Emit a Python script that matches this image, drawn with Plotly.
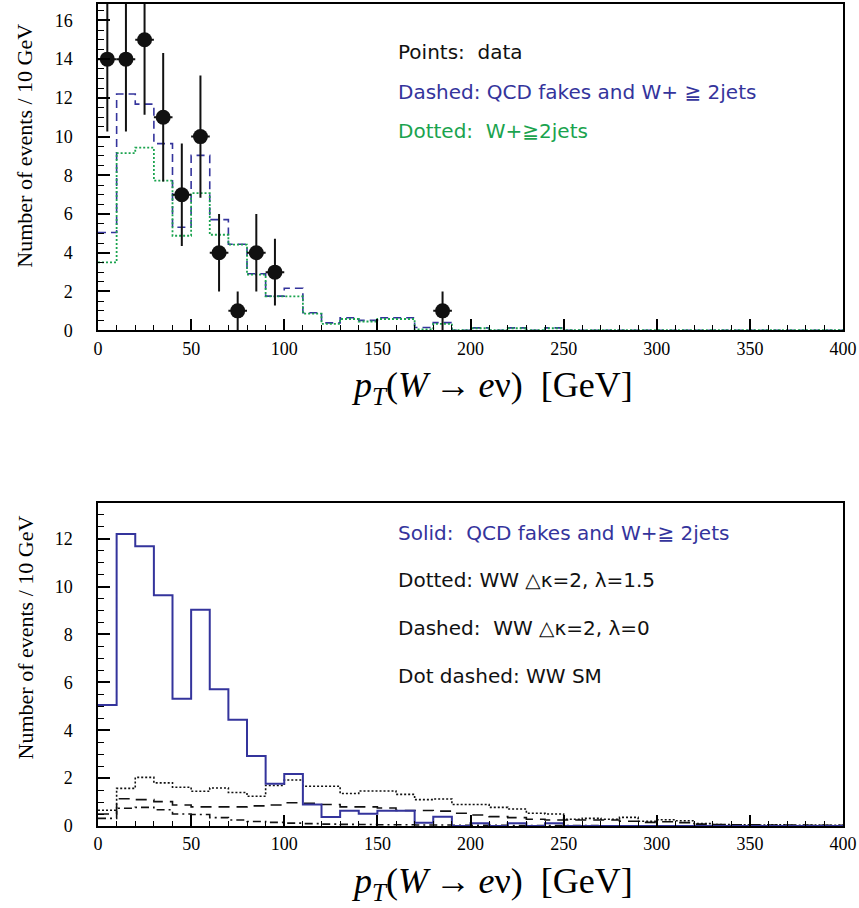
import plotly.graph_objects as go
from plotly.subplots import make_subplots

# ---------------- data ----------------
bin_edges = list(range(0, 410, 10))  # 0..400, 10 GeV bins

data_x = [5, 15, 25, 35, 45, 55, 65, 75, 85, 95, 185]
data_y = [14, 14, 15, 11, 7, 10, 4, 1, 4, 3, 1]
data_err = [3.74, 3.74, 3.87, 3.32, 2.65, 3.16, 2.0, 1.0, 2.0, 1.73, 1.0]
data_xerr = [5] * 11

qcd_w2jets = [5.05, 12.2, 11.68, 9.64, 5.32, 9.03, 5.71, 4.44, 2.92, 1.76,
              2.17, 0.9, 0.38, 0.64, 0.51, 0.64, 0.64, 0.14, 0.39, 0.0,
              0.12, 0.0, 0.12, 0.0, 0.12, 0.0, 0.0, 0.0, 0.0, 0.0,
              0.0, 0.0, 0.0, 0.0, 0.0, 0.0, 0.0, 0.0, 0.0, 0.0]

w2jets = [3.5, 9.15, 9.43, 7.73, 4.88, 7.08, 4.93, 4.42, 2.87, 1.75,
          1.75, 0.86, 0.33, 0.58, 0.45, 0.58, 0.58, 0.04, 0.33, 0.0,
          0.1, 0.0, 0.1, 0.0, 0.1, 0.0, 0.0, 0.0, 0.0, 0.0,
          0.0, 0.0, 0.0, 0.0, 0.0, 0.0, 0.0, 0.0, 0.0, 0.0]

ww_k2_l15 = [0.66, 1.57, 2.03, 1.8, 1.62, 1.45, 1.59, 1.4, 1.24, 1.69,
             1.92, 1.66, 1.66, 1.36, 1.46, 1.46, 1.32, 1.1, 1.13, 0.9,
             0.9, 0.78, 0.71, 0.53, 0.5, 0.28, 0.32, 0.28, 0.36, 0.2,
             0.26, 0.22, 0.1, 0.06, 0.05, 0.04, 0.05, 0.03, 0.04, 0.03]

ww_k2_l0 = [0.5, 1.14, 1.1, 1.02, 0.88, 0.8, 0.8, 0.8, 0.84, 0.88,
            0.97, 0.95, 0.9, 0.8, 0.8, 0.75, 0.65, 0.65, 0.62, 0.53,
            0.46, 0.39, 0.35, 0.28, 0.25, 0.25, 0.25, 0.25, 0.2, 0.15,
            0.18, 0.14, 0.08, 0.06, 0.05, 0.05, 0.04, 0.04, 0.03, 0.03]

ww_sm = [0.32, 0.74, 0.78, 0.68, 0.5, 0.48, 0.35, 0.25, 0.19, 0.15,
         0.12, 0.1, 0.08, 0.07, 0.06, 0.05, 0.05, 0.04, 0.04, 0.03,
         0.03, 0.03, 0.02, 0.02, 0.02, 0.02, 0.02, 0.01, 0.01, 0.01,
         0.01, 0.01, 0.01, 0.01, 0.0, 0.0, 0.0, 0.0, 0.0, 0.0]

x_ticks = [0, 50, 100, 150, 200, 250, 300, 350, 400]

BLUE = "#34349c"
GREEN = "#1aa34e"
SERIF = "Liberation Serif, Times New Roman, serif"
SANS = "DejaVu Sans, Noto Sans CJK JP, sans-serif"


def step(values):
    return bin_edges, list(values) + [values[-1]]


fig = make_subplots(rows=2, cols=1, vertical_spacing=0.0)

# ---------------- top panel ----------------
sx, sy = step(qcd_w2jets)
fig.add_trace(go.Scatter(x=sx, y=sy, mode="lines", line_shape="hv",
                         line=dict(color=BLUE, width=1.6, dash="8px,5px"),
                         showlegend=False), row=1, col=1)
sx, sy = step(w2jets)
fig.add_trace(go.Scatter(x=sx, y=sy, mode="lines", line_shape="hv",
                         line=dict(color=GREEN, width=1.8, dash="2px,2px"),
                         showlegend=False), row=1, col=1)
fig.add_trace(go.Scatter(x=data_x, y=data_y, mode="markers",
                         marker=dict(color="#111111", size=15),
                         error_y=dict(type="data", array=data_err, color="#111111",
                                      thickness=2, width=0),
                         error_x=dict(type="data", array=data_xerr, color="#111111",
                                      thickness=2, width=0),
                         showlegend=False), row=1, col=1)

# ---------------- bottom panel ----------------
sx, sy = step(ww_k2_l15)
fig.add_trace(go.Scatter(x=sx, y=sy, mode="lines", line_shape="hv",
                         line=dict(color="#111111", width=1.6, dash="2px,2px"),
                         showlegend=False), row=2, col=1)
sx, sy = step(ww_k2_l0)
fig.add_trace(go.Scatter(x=sx, y=sy, mode="lines", line_shape="hv",
                         line=dict(color="#111111", width=1.6, dash="11px,7px"),
                         showlegend=False), row=2, col=1)
sx, sy = step(ww_sm)
fig.add_trace(go.Scatter(x=sx, y=sy, mode="lines", line_shape="hv",
                         line=dict(color="#111111", width=1.6, dash="8px,4px,2px,4px"),
                         showlegend=False), row=2, col=1)
sx, sy = step(qcd_w2jets)
fig.add_trace(go.Scatter(x=sx, y=sy, mode="lines", line_shape="hv",
                         line=dict(color=BLUE, width=2),
                         showlegend=False), row=2, col=1)

axis_common = dict(showline=True, linecolor="black", linewidth=1.5, mirror=True,
                   showgrid=False, zeroline=False, ticks="inside",
                   tickcolor="black", tickwidth=1.5,
                   tickfont=dict(family=SERIF, size=18, color="black"))

for r in (1, 2):
    fig.update_xaxes(range=[0, 400], tickvals=x_ticks, ticklen=11,
                     minor=dict(dtick=10, ticklen=5, ticks="inside",
                                tickcolor="black", tickwidth=1.2),
                     ticklabelstandoff=1, row=r, col=1, **axis_common)

fig.update_yaxes(range=[0, 16.85], dtick=2, ticklen=12,
                 minor=dict(dtick=0.5, ticklen=6, ticks="inside",
                            tickcolor="black", tickwidth=1.2),
                 ticklabelstandoff=20, row=1, col=1, **axis_common)
fig.update_yaxes(range=[0, 13.5], dtick=2, ticklen=12,
                 minor=dict(dtick=0.5, ticklen=6, ticks="inside",
                            tickcolor="black", tickwidth=1.2),
                 ticklabelstandoff=20, row=2, col=1, **axis_common)

H = 908
mt, mb = 2, 82
ph = H - mt - mb
fig.update_layout(
    width=859, height=H,
    margin=dict(l=98, r=16, t=mt, b=mb),
    paper_bgcolor="white", plot_bgcolor="white",
    showlegend=False,
)
fig.layout.yaxis.domain = [(826 - 329) / ph, 1.0]
fig.layout.yaxis2.domain = [0.0, (826 - 502) / ph]


def py(pix):
    # convert pixel y (from top of page) to paper coordinate
    return (H - mb - pix) / ph


def px(pix):
    return (pix - 98) / (859 - 98 - 16)


# y-axis titles
for ypix in (144, 637):
    fig.add_annotation(x=px(25), y=py(ypix), xref="paper", yref="paper",
                       text="Number of events / 10 GeV", textangle=-90,
                       showarrow=False, xanchor="center", yanchor="middle",
                       font=dict(family=SERIF, size=22, color="black"))

# x-axis titles
xtitle = ("<i>p</i><sub><i>T</i></sub>(<i>W</i>\u2009\u2192\u2009<i>e</i>\u03bd)"
          "\u00a0\u00a0[GeV]")
for ypix in (386, 884):
    fig.add_annotation(x=px(492), y=py(ypix), xref="paper", yref="paper",
                       text=xtitle, showarrow=False, xanchor="center", yanchor="middle",
                       font=dict(family=SERIF, size=36, color="black"))

legend_items = [
    ("Points:  data", 50, "#111111"),
    ("Dashed: QCD fakes and W+ \u2267 2jets", 90, BLUE),
    ("Dotted:  W+\u22672jets", 129, GREEN),
    ("Solid:  QCD fakes and W+\u2267 2jets", 532, BLUE),
    ("Dotted: WW \u25b3\u03ba=2, \u03bb=1.5", 579, "#111111"),
    ("Dashed:  WW \u25b3\u03ba=2, \u03bb=0", 628, "#111111"),
    ("Dot dashed: WW SM", 676, "#111111"),
]
for txt, ypix, col in legend_items:
    fig.add_annotation(x=px(396), y=py(ypix), xref="paper", yref="paper",
                       text=txt, showarrow=False, xanchor="left", yanchor="middle",
                       font=dict(family=SANS, size=20, color=col))

fig.write_html("out.html")
